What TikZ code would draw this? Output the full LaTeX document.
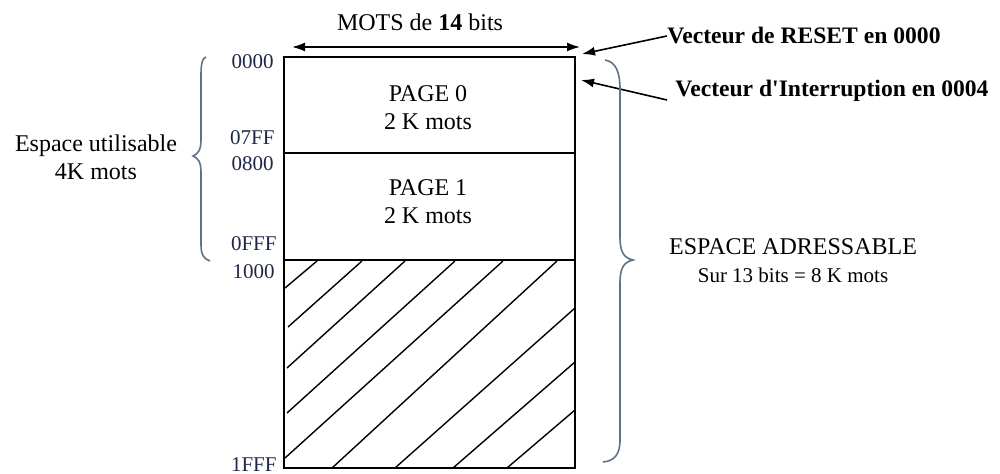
\documentclass[tikz,border=0pt]{standalone}
\usepackage{fontspec}
\setmainfont{Liberation Serif}
\usetikzlibrary{arrows.meta}
\definecolor{addr}{RGB}{30,40,70}
\definecolor{bracec}{RGB}{95,115,135}
\begin{document}
\begin{tikzpicture}[x=0.5pt,y=-0.5pt,
  txt/.style={inner sep=0pt,font=\fontsize{12}{14}\selectfont,align=center},
  vect/.style={inner sep=0pt,font=\fontsize{11.8}{14}\selectfont\bfseries,anchor=west},
  addrlbl/.style={inner sep=0pt,font=\fontsize{10.5}{12}\selectfont,text=addr,anchor=east},
  box/.style={line width=1pt,draw=black},
  hatch/.style={line width=0.7pt},
  brc/.style={line width=0.8pt,draw=bracec},
  arr/.style={line width=0.8pt,-{Latex[length=6.5pt,width=4.5pt]}},
  darr/.style={line width=0.8pt,{Latex[length=6.5pt,width=4.5pt]}-{Latex[length=6.5pt,width=4.5pt]}}]
\useasboundingbox (0,0) rectangle (1000,474);
% memory block
\coordinate (tl) at (284,57);
\coordinate (br) at (575,468);
\coordinate (d1l) at (284,153); \coordinate (d1r) at (575,153);
\coordinate (d2l) at (284,260); \coordinate (d2r) at (575,260);
\begin{scope}
\clip (d2l) rectangle (br);
\draw[hatch] (285,288) -- (317,261);
\draw[hatch] (288,327) -- (362,261);
\draw[hatch] (287,368) -- (405,261);
\draw[hatch] (287,413) -- (455,261);
\draw[hatch] (285,458) -- (503,261);
\draw[hatch] (332,468) -- (557,261);
\draw[hatch] (395,468) -- (575,308);
\draw[hatch] (453,468) -- (575,362);
\draw[hatch] (507,468) -- (575,410);
\end{scope}
\draw[box] (tl) rectangle (br);
\draw[box] (d1l) -- (d1r);
\draw[box] (d2l) -- (d2r);
% page texts
\node[txt] (p0) at (428,108) {PAGE 0\\2 K mots};
\node[txt] (p1) at (428,202) {PAGE 1\\2 K mots};
% address labels
\node[addrlbl] (a0) at (274,62) {0000};
\node[addrlbl] (a1) at (275,138) {07FF};
\node[addrlbl] (a2) at (274,164) {0800};
\node[addrlbl] (a3) at (277,244) {0FFF};
\node[addrlbl] (a4) at (275,272) {1000};
\node[addrlbl] (a5) at (277,465) {1FFF};
% word width
\node[txt] (mots) at (420,22) {MOTS de \textbf{14} bits};
\coordinate (wl) at (292,47);
\coordinate (wr) at (580,47);
\draw[darr] (wl) -- (wr);
% vectors
\node[vect] (reset) at (667,36) {Vecteur de RESET en 0000};
\coordinate (resetTip) at (582,54);
\draw[arr] (reset.west) -- (resetTip);
\node[vect] (intr) at (675,91) {Vecteur d\textquotesingle Interruption en 0004};
\coordinate (intTail) at (667,100);
\coordinate (intTip) at (581,80);
\draw[arr] (intTail) -- (intTip);
% right brace
\draw[brc] (605,60) .. controls (616,62) and (620,72) .. (620,90) -- (620,238)
  .. controls (620,252) and (624,258) .. (633,260)
  .. controls (624,262) and (620,268) .. (620,282) -- (620,440)
  .. controls (620,455) and (614,461) .. (603,462);
\node[txt] (esp) at (793,261) {ESPACE ADRESSABLE\\{\fontsize{10.5}{12}\selectfont Sur 13 bits = 8 K mots}};
% left brace
\draw[brc] (206,57) .. controls (203,58) and (201,62) .. (201,74) -- (201,140)
  .. controls (201,150) and (198,154) .. (193,156)
  .. controls (198,158) and (201,162) .. (201,172) -- (201,245)
  .. controls (201,255) and (204,259) .. (210,261);
\node[txt] (util) at (96,157) {Espace utilisable\\4K mots};
\end{tikzpicture}
\end{document}
